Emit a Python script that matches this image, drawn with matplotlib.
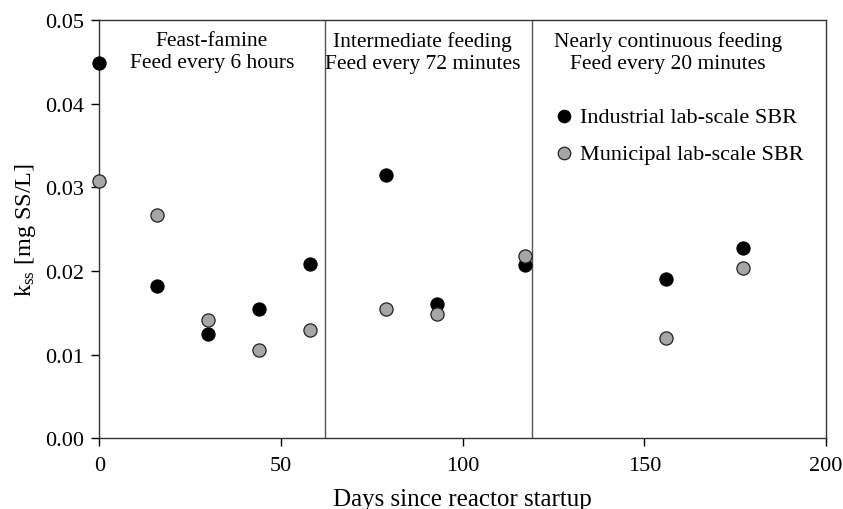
import matplotlib
matplotlib.use("Agg")
import matplotlib.pyplot as plt

plt.rcParams['font.family'] = ['Liberation Serif', 'DejaVu Serif']
plt.rcParams['mathtext.fontset'] = 'custom'
plt.rcParams['mathtext.rm'] = 'Liberation Serif'
plt.rcParams['mathtext.it'] = 'Liberation Serif:italic'

# days since startup
days = [0, 16, 30, 44, 58, 79, 93, 117, 156, 177]
industrial = [0.0449, 0.0182, 0.0125, 0.0155, 0.0208, 0.0315, 0.0161, 0.0207, 0.0190, 0.0228]
municipal = [0.0308, 0.0267, 0.0141, 0.0106, 0.0130, 0.0155, 0.0148, 0.0218, 0.0120, 0.0204]

phase_breaks = [62, 119]
phase_labels = ["Feast-famine\nFeed every 6 hours",
                "Intermediate feeding\nFeed every 72 minutes",
                "Nearly continuous feeding\nFeed every 20 minutes"]
phase_centers = [31, 89, 156.5]

fig = plt.figure(figsize=(8.43, 5.10), dpi=100)
ax = fig.add_axes([0.1178, 0.1386, 0.8622, 0.8202])

ax.scatter(days, industrial, s=90, c='black', edgecolors='black', linewidths=0.8,
           label="Industrial lab-scale SBR", zorder=3, clip_on=False)
ax.scatter(days, municipal, s=90, c='#a6a6a6', edgecolors='#222222', linewidths=0.9,
           label="Municipal lab-scale SBR", zorder=3, clip_on=False)

for b in phase_breaks:
    ax.axvline(b, color='#555555', lw=1.0, zorder=1)

for cx, txt in zip(phase_centers, phase_labels):
    ax.text(cx, 0.0487, txt, ha='center', va='top', fontsize=15.5, linespacing=1.2)

ax.set_xlim(0, 200)
ax.set_ylim(0, 0.05)
ax.set_xticks([0, 50, 100, 150, 200])
ax.set_yticks([0, 0.01, 0.02, 0.03, 0.04, 0.05])
ax.set_yticklabels(["0.00", "0.01", "0.02", "0.03", "0.04", "0.05"])
ax.tick_params(direction='out', length=6, width=1, labelsize=16)
ax.tick_params(axis='x', pad=7)
ax.tick_params(axis='y', pad=5)

for sp in ax.spines.values():
    sp.set_linewidth(1.0)
    sp.set_color('#333333')

ax.set_xlabel("Days since reactor startup", fontsize=18, labelpad=9)
ax.set_ylabel(r"k$_{\mathrm{ss}}$ [mg SS/L]", fontsize=17.5, labelpad=5)

ax.legend(loc='upper left', bbox_to_anchor=(0.596, 0.814), frameon=False, fontsize=16,
          handletextpad=-0.25, labelspacing=0.72, borderaxespad=0, scatterpoints=1,
          markerscale=0.95)

fig.savefig("out.png", dpi=100)
